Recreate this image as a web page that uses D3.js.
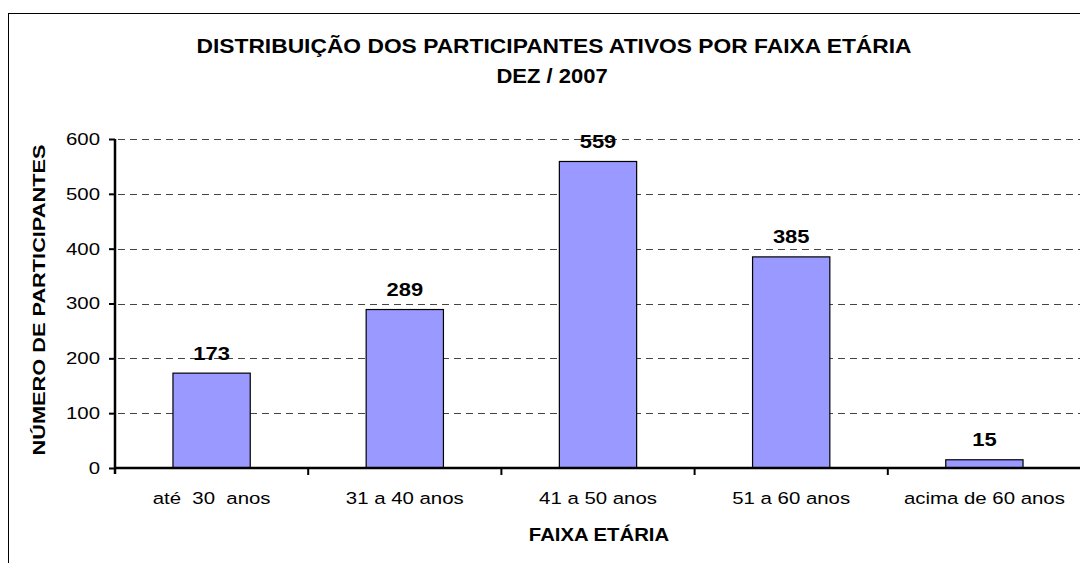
<!DOCTYPE html>
<html>
<head>
<meta charset="utf-8">
<script src="https://cdn.jsdelivr.net/npm/d3@7"></script>
<style>
  body { margin: 0; background: #fff; }
  text { font-family: "Liberation Sans", Arial, sans-serif; }
</style>
</head>
<body>
<div id="chart"></div>
<script>
// data
var categories = ["até  30  anos", "31 a 40 anos", "41 a 50 anos", "51 a 60 anos", "acima de 60 anos"];
var participants = [173, 289, 559, 385, 15];
var yTicks = [0, 100, 200, 300, 400, 500, 600];

var svgWidth = 1080;
var svgHeight = 563;

var svg = d3.select("#chart")
    .append("svg")
    .attr("width", svgWidth)
    .attr("height", svgHeight);

// outer frame of the chart area
svg.append("rect")
    .attr("x", 8.5)
    .attr("y", 13.5)
    .attr("width", 1100)
    .attr("height", 600)
    .attr("fill", "none")
    .attr("stroke", "#000")
    .attr("stroke-width", 1);

// scales
var xScale = d3.scaleBand()
    .domain(categories)
    .range([115, 1081])
    .paddingInner(0.6)
    .paddingOuter(0.3);

var yScale = d3.scaleLinear()
    .domain([0, 600])
    .range([468, 139]);

// grid lines
svg.append("g")
    .selectAll("line")
    .data(yTicks.filter(d => d > 0))
    .enter()
    .append("line")
    .attr("x1", 118)
    .attr("x2", 1080)
    .attr("y1", d => Math.round(yScale(d)) + 0.5)
    .attr("y2", d => Math.round(yScale(d)) + 0.5)
    .attr("stroke", "#444")
    .attr("stroke-width", 1)
    .attr("stroke-dasharray", "7,5");

// bars
svg.append("g")
    .selectAll("rect")
    .data(participants)
    .enter()
    .append("rect")
    .attr("x", (d, i) => xScale(categories[i]))
    .attr("y", d => yScale(d))
    .attr("width", xScale.bandwidth())
    .attr("height", d => yScale(0) - yScale(d))
    .attr("fill", "#9999ff")
    .attr("stroke", "#000")
    .attr("stroke-width", 1.2);

// value labels
svg.append("g")
    .selectAll("text")
    .data(participants)
    .enter()
    .append("text")
    .attr("transform", (d, i) => `translate(${xScale(categories[i]) + xScale.bandwidth() / 2}, ${yScale(d) - 13.5}) scale(1.22,1)`)
    .attr("text-anchor", "middle")
    .style("font-size", "18px")
    .style("font-weight", "bold")
    .text(d => d);

// y axis
var yAxis = d3.axisLeft(yScale)
    .tickValues(yTicks)
    .tickSize(6)
    .tickSizeOuter(0);

var yAxisG = svg.append("g")
    .attr("transform", "translate(115,0)")
    .call(yAxis);

yAxisG.select(".domain")
    .attr("d", "M0,139V474")
    .attr("stroke", "#000")
    .attr("stroke-width", 2.5);

yAxisG.selectAll(".tick line")
    .attr("stroke-width", 2);

yAxisG.selectAll(".tick text")
    .attr("x", null)
    .attr("transform", "translate(-15,0) scale(1.2,1)")
    .attr("fill", "#000")
    .style("font-size", "17px")
    .style("font-family", "'Liberation Sans', Arial, sans-serif");

// x axis
svg.append("line")
    .attr("x1", 114)
    .attr("x2", 1081)
    .attr("y1", 468)
    .attr("y2", 468)
    .attr("stroke", "#000")
    .attr("stroke-width", 2.5);

var boundaries = categories.slice(1).map(c => xScale(c) - xScale.step() * 0.3);

svg.append("g")
    .selectAll("line")
    .data(boundaries)
    .enter()
    .append("line")
    .attr("x1", d => d)
    .attr("x2", d => d)
    .attr("y1", 468)
    .attr("y2", 475)
    .attr("stroke", "#000")
    .attr("stroke-width", 2);

// category labels
svg.append("g")
    .selectAll("text")
    .data(categories)
    .enter()
    .append("text")
    .attr("transform", d => `translate(${xScale(d) + xScale.bandwidth() / 2}, 504) scale(1.2,1)`)
    .attr("text-anchor", "middle")
    .style("font-size", "17px")
    .style("white-space", "pre")
    .text(d => d);

// title
svg.append("text")
    .attr("transform", "translate(554,53) scale(1.14,1)")
    .attr("text-anchor", "middle")
    .style("font-size", "20px")
    .style("font-weight", "bold")
    .text("DISTRIBUIÇÃO DOS PARTICIPANTES ATIVOS POR FAIXA ETÁRIA");

svg.append("text")
    .attr("transform", "translate(552,83) scale(1.1,1)")
    .attr("text-anchor", "middle")
    .style("font-size", "20px")
    .style("font-weight", "bold")
    .style("white-space", "pre")
    .text("DEZ / 2007");

// axis titles
svg.append("text")
    .attr("transform", "translate(599,541) scale(1.07,1)")
    .attr("text-anchor", "middle")
    .style("font-size", "19px")
    .style("font-weight", "bold")
    .text("FAIXA ETÁRIA");

svg.append("text")
    .attr("transform", "translate(45,300) rotate(-90) scale(1.28,1)")
    .attr("text-anchor", "middle")
    .style("font-size", "17px")
    .style("font-weight", "bold")
    .text("NÚMERO DE PARTICIPANTES");
</script>
</body>
</html>
